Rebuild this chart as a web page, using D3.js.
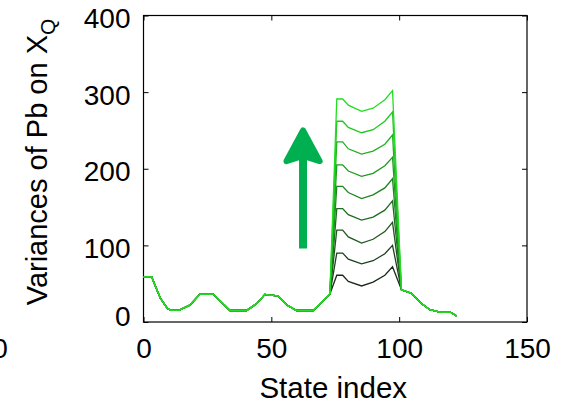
<!DOCTYPE html>
<html>
<head>
<meta charset="utf-8">
<title>Variances of Pb on XQ</title>
<style>
body { margin: 0; background: #fff; }
svg { display: block; font-family: "Liberation Sans", Arial, sans-serif; }
.tick line { stroke: #000; stroke-width: 1px; }
.tick text { font-size: 28px; fill: #000; }
</style>
<script src="https://d3js.org/d3.v7.min.js"></script>
</head>
<body>
<div id="chart"></div>
<script>
// shared curve outside the bump (state, value)
var baseLeft = [[0,59],[3.2,59],[4.5,48],[6.6,31],[9.3,18],[10.6,15.3],[13.9,15.3],[18.1,22],[22.1,36.5],[27.3,36.5],[33.8,15],[40.3,15],[44.3,24],[47.5,36],[49.5,35],[52.7,34],[55.9,22.5],[59.9,15],[66.4,15],[72.9,36.5]]
var baseRight = [[100.9,42],[104.8,37.5],[108.7,24],[112,16],[115.9,13],[120,13],[122.4,8]]

// bump states and the values of each of the 9 curves (bottom to top)
var bumpStates = [75.6, 77.9, 80.1, 85.3, 89.8, 94.4, 97.4]
var bumpValues = [
  [61, 61, 53, 47, 52, 61, 72],
  [90, 90, 82, 76, 80, 89, 100],
  [120, 120, 111, 103, 108, 118, 130],
  [148, 148, 140, 133, 137, 146, 158],
  [177, 177, 169, 161, 166, 175, 187],
  [205, 205, 197, 190, 194, 204, 215],
  [235, 235, 226, 219, 223, 232, 244],
  [262, 262, 254, 247, 251, 262, 274],
  [291, 291, 283, 275, 279, 290, 302]
]

var xTicks = [0, 50, 100, 150]
var yTicks = [0, 100, 200, 300, 400]

// arrow annotation, in data units
var arrowState = 62.4, arrowFrom = 96, arrowTip = 250, arrowWing = 210, arrowHalf = 6.5

var W = 569, H = 404
var svg = d3.select('#chart').append('svg').attr('width', W).attr('height', H)

var x = d3.scaleLinear().domain([0,150]).range([143.5,527])
var y = d3.scaleLinear().domain([0,400]).range([322,15.5])

// axes, ticks pointing inward
svg.append('g').attr('transform','translate(0,322)')
  .call(d3.axisBottom(x).tickValues(xTicks).tickSizeInner(-5).tickSizeOuter(0).tickPadding(0))
  .call(g => g.select('.domain').remove())
  .call(g => g.selectAll('text').attr('dy', null).attr('y', 36))
svg.append('g').attr('transform','translate(0,15.5)')
  .call(d3.axisTop(x).tickValues(xTicks).tickSizeInner(-5).tickSizeOuter(0).tickFormat(''))
  .call(g => g.select('.domain').remove())
svg.append('g').attr('transform','translate(143.5,0)')
  .call(d3.axisLeft(y).tickValues(yTicks).tickSizeInner(-5).tickSizeOuter(0).tickPadding(13))
  .call(g => g.select('.domain').remove())
  .call(g => g.selectAll('text').attr('dy', null).attr('y', d => d === 0 ? 3 : 12))
svg.append('g').attr('transform','translate(527,0)')
  .call(d3.axisRight(y).tickValues(yTicks).tickSizeInner(-5).tickSizeOuter(0).tickFormat(''))
  .call(g => g.select('.domain').remove())

svg.append('rect').attr('x',143.5).attr('y',15.5).attr('width',383.5).attr('height',306.5)
  .attr('fill','none').attr('stroke','#000').attr('stroke-width',1.2)

// curves
var color = d3.interpolateRgb('#1c2a1c', '#22dd22')
var line = d3.line().x(d => x(d[0])).y(d => y(d[1]))
bumpValues.forEach(function(vals, i) {
  var pts = baseLeft.concat(bumpStates.map((s,j) => [s, vals[j]]), baseRight)
  svg.append('path').attr('d', line(pts)).attr('fill','none')
    .attr('stroke', color(i / (bumpValues.length - 1))).attr('stroke-width', 1.3)
})

// arrow
var ax = x(arrowState), wy = y(arrowWing)
svg.append('line').attr('x1',ax).attr('x2',ax).attr('y1',y(arrowFrom)).attr('y2',wy - 10)
  .attr('stroke','#00b050').attr('stroke-width',8)
svg.append('path')
  .attr('d', 'M' + ax + ',' + y(arrowTip) + 'L' + x(arrowState + arrowHalf) + ',' + wy +
    'L' + (ax + 4) + ',' + (wy - 4) + 'L' + (ax - 4) + ',' + (wy - 4) +
    'L' + x(arrowState - arrowHalf) + ',' + wy + 'Z')
  .attr('fill','#00b050').attr('stroke','#00b050').attr('stroke-width',6).attr('stroke-linejoin','round')

// labels
svg.append('text').attr('x', (143.5+527)/2 - 2).attr('y', 398).attr('text-anchor','middle')
  .attr('font-size', 29.5).text('State index')
var yl = svg.append('text').attr('transform','translate(47,162) rotate(-90)').attr('text-anchor','middle')
  .attr('font-size', 29)
yl.append('tspan').text('Variances of Pb on X')
yl.append('tspan').attr('font-size', 21).attr('dy', 8).text('Q')

// clipped label from the neighbouring panel
svg.append('text').attr('x', 0).attr('y', 358).attr('text-anchor','middle').attr('font-size', 28).text('0')
</script>
</body>
</html>
